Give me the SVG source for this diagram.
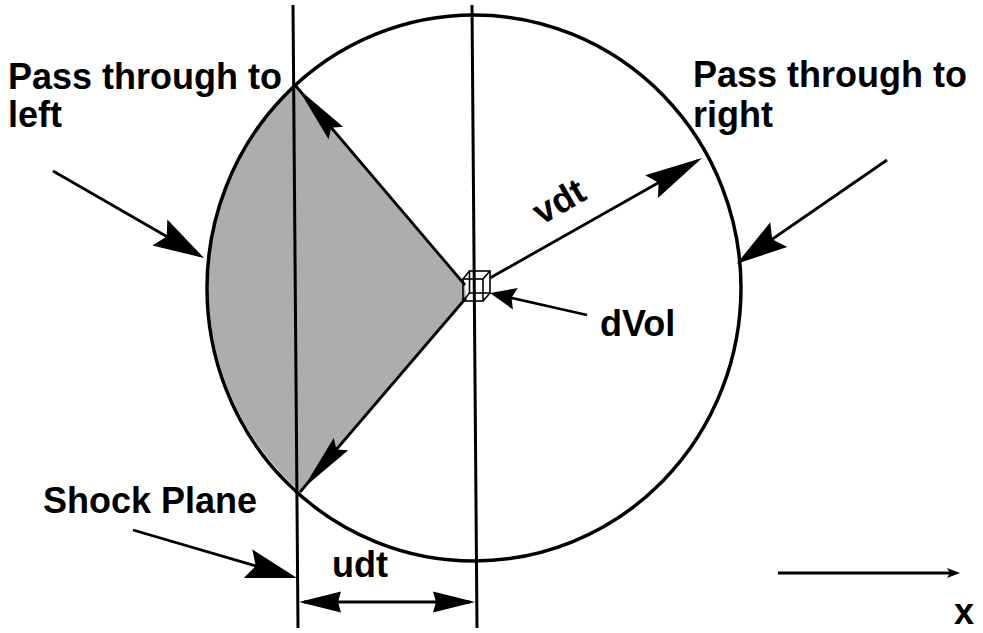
<svg xmlns="http://www.w3.org/2000/svg" width="983" height="633" viewBox="0 0 983 633">
<style>
.lbl{font-family:"Liberation Sans",Arial,sans-serif;font-weight:bold;font-size:36px;fill:#000}
.ln{stroke:#000;stroke-width:3;fill:none}
.cn{stroke:#000;stroke-width:2.8;fill:none}
.hd{fill:#000;stroke:none}
</style>
<defs>
<marker id="big" markerUnits="userSpaceOnUse" orient="auto" refX="0" refY="0" markerWidth="1" markerHeight="1" overflow="visible"><path class="hd" d="M5,0 L-46,-15 L-38,0 L-46,15 Z"/></marker>
<marker id="vdth" markerUnits="userSpaceOnUse" orient="auto" refX="0" refY="0" markerWidth="1" markerHeight="1" overflow="visible"><path class="hd" d="M5,0 L-53,-13 L-45,0 L-53,13 Z"/></marker>
<marker id="long" markerUnits="userSpaceOnUse" orient="auto" refX="0" refY="0" markerWidth="1" markerHeight="1" overflow="visible"><path class="hd" d="M-5,0 L-63,-9.5 L-56,0 L-63,9.5 Z"/></marker>
<marker id="small" markerUnits="userSpaceOnUse" orient="auto" refX="0" refY="0" markerWidth="1" markerHeight="1" overflow="visible"><path class="hd" d="M5,0 L-21,-11 L-17,0 L-21,11 Z"/></marker>
<marker id="dim" markerUnits="userSpaceOnUse" orient="auto-start-reverse" refX="0" refY="0" markerWidth="1" markerHeight="1" overflow="visible"><path class="hd" d="M5,0 L-37,-10.5 L-34,0 L-37,10.5 Z"/></marker>
<marker id="tiny" markerUnits="userSpaceOnUse" orient="auto" refX="0" refY="0" markerWidth="1" markerHeight="1" overflow="visible"><path class="hd" d="M5,0 L-8,-5 L-5,0 L-8,5 Z"/></marker>
</defs>
<rect width="983" height="633" fill="#fff"/>
<g id="shaded-region">
<path d="M295,85 L465,285 L466,298 L300,492 A267,273 0 0 1 295,85 Z" fill="#adadad" stroke="none"/>
</g>
<g id="circle">
<ellipse cx="474" cy="288" rx="267" ry="273" fill="none" stroke="#000" stroke-width="3.5"/>
</g>
<g id="shock-plane-line">
<line class="ln" x1="293" y1="5" x2="298" y2="628"/>
</g>
<g id="center-line">
<line class="ln" x1="472" y1="5" x2="477" y2="628"/>
</g>
<g id="dVol-cube" fill="none" stroke="#000" stroke-width="1.6">
<rect x="463" y="279" width="20" height="22"/>
<rect x="469.5" y="271" width="20.5" height="22"/>
<line x1="463" y1="279" x2="469.5" y2="271"/>
<line x1="483" y1="279" x2="490" y2="271"/>
<line x1="483" y1="301" x2="490" y2="293"/>
<line x1="463" y1="301" x2="469.5" y2="293"/>
</g>
<g id="connectors">
<line class="cn" x1="465" y1="285" x2="295" y2="85" marker-end="url(#long)"/>
<line class="cn" x1="466" y1="298" x2="300" y2="492" marker-end="url(#long)"/>
<line class="cn" x1="490" y1="278" x2="697.7" y2="160.5" marker-end="url(#vdth)"/>
<line class="cn" x1="587" y1="315" x2="494.9" y2="294.1" marker-end="url(#small)"/>
<line class="cn" x1="53" y1="171" x2="199.7" y2="255.5" marker-end="url(#big)"/>
<line class="cn" x1="887" y1="160" x2="740.9" y2="260.8" marker-end="url(#big)"/>
<line class="cn" x1="133" y1="530" x2="292.2" y2="576.6" marker-end="url(#big)"/>
<line class="cn" x1="304" y1="602" x2="470" y2="602" marker-start="url(#dim)" marker-end="url(#dim)"/>
<line class="cn" x1="778" y1="573" x2="955" y2="573" marker-end="url(#tiny)"/>
</g>
<g id="label-left">
<text class="lbl" x="8" y="89">Pass through to</text>
<text class="lbl" x="8" y="127">left</text>
</g>
<g id="label-right">
<text class="lbl" x="693" y="87">Pass through to</text>
<text class="lbl" x="693" y="127">right</text>
</g>
<g id="label-vdt">
<text class="lbl" x="565" y="212" text-anchor="middle" transform="rotate(-30 565 212)">vdt</text>
</g>
<g id="label-dVol">
<text class="lbl" x="600" y="336">dVol</text>
</g>
<g id="label-shock">
<text class="lbl" x="43" y="513">Shock Plane</text>
</g>
<g id="label-udt">
<text class="lbl" x="332" y="577">udt</text>
</g>
<g id="label-x">
<text class="lbl" x="954" y="624">x</text>
</g>
</svg>
